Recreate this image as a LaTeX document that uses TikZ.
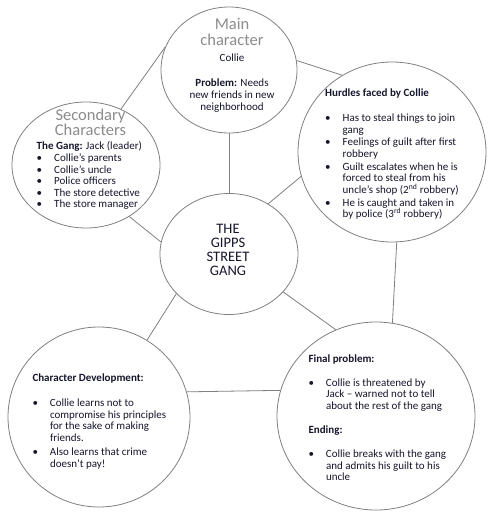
\documentclass[tikz,border=0pt]{standalone}
\usepackage{fontspec}
\setmainfont{Carlito}
\usetikzlibrary{shapes.geometric}

\definecolor{ringgrey}{RGB}{128,128,128}
\definecolor{headgrey}{RGB}{140,140,140}
\definecolor{inkblue}{RGB}{22,22,44}

\newcommand{\bul}{\makebox[17.5pt][l]{\textbullet}}
\newcommand{\ind}{\hspace*{17.5pt}}

\begin{document}
\begin{tikzpicture}[x=1pt, y=-1pt,
  bubble/.style={draw=ringgrey, line width=0.8pt, ellipse, inner sep=0pt},
  link/.style={draw=ringgrey, line width=0.8pt},
  headtext/.style={text=headgrey, font=\fontsize{16.5}{15.5}\selectfont, align=center, inner sep=0pt},
  bodytext/.style={text=inkblue, font=\fontsize{11}{11.6}\selectfont, align=left, inner sep=0pt}]
\useasboundingbox[fill=white] (0,0) rectangle (495,517);

% bubbles
\node[bubble, minimum width=136pt, minimum height=126pt] (main) at (229,70) {};
\node[bubble, minimum width=148pt, minimum height=126pt] (secondary) at (86,165) {};
\node[bubble, minimum width=188pt, minimum height=180pt] (hurdles) at (392,152) {};
\node[bubble, minimum width=138pt, minimum height=121pt] (gang) at (229,254) {};
\node[bubble, minimum width=182pt, minimum height=180pt] (chardev) at (99,417) {};
\node[bubble, minimum width=198pt, minimum height=188pt] (final) at (376,416) {};

% connectors
\draw[link] (secondary.58) -- (main.160);
\draw[link] (main.8) -- (hurdles.123);
\draw[link] (main.south) -- (gang.north);
\draw[link] (gang.52) -- (hurdles.195);
\draw[link] (secondary.-50) -- (gang.170);
\draw[link] (hurdles.-87) -- (final.80);
\draw[link] (gang.-35) -- (final.115);
\draw[link] (gang.-143) -- (chardev.58);
\draw[link] (chardev.16) -- (final.165);

% main character
\node[headtext, anchor=north] (mainhead) at (232,18) {Main\\character};
\node[bodytext, align=center, anchor=north] (maintext) at (232,54)
  {Collie\\[13.5pt]\textbf{Problem:} Needs\\new friends in new\\neighborhood};

% secondary characters
\node[headtext, anchor=north] (sechead) at (90.5,108.5) {Secondary\\Characters};
\node[bodytext, anchor=north west] (sectext) at (36.5,141.7)
  {\textbf{The Gang:} Jack (leader)\\
   \bul Collie's parents\\
   \bul Collie's uncle\\
   \bul Police officers\\
   \bul The store detective\\
   \bul The store manager};

% hurdles
\node[bodytext, anchor=north west] (hurdtext) at (325,89)
  {\textbf{Hurdles faced by Collie}\\[13.4pt]
   \bul Has to steal things to join\\
   \ind gang\\[0.4pt]
   \bul Feelings of guilt after first\\
   \ind robbery\\[1.4pt]
   \bul Guilt escalates when he is\\
   \ind forced to steal from his\\
   \ind uncle's shop (2\textsuperscript{nd} robbery)\\[1.4pt]
   \bul He is caught and taken in\\
   \ind by police (3\textsuperscript{rd} robbery)};

% title
\node[bodytext, align=center, anchor=north, font=\fontsize{14.5}{14}\selectfont] (gangtext) at (228,224)
  {THE\\GIPPS\\STREET\\GANG};

% character development
\node[bodytext, anchor=north west] (devtext) at (32.3,373.7)
  {\textbf{Character Development:}\\[13.4pt]
   \bul Collie learns not to\\
   \ind compromise his principles\\
   \ind for the sake of making\\
   \ind friends.\\[2.4pt]
   \bul Also learns that crime\\
   \ind doesn't pay!};

% final problem and ending
\node[bodytext, anchor=north west] (finaltext) at (308.3,354.3)
  {\textbf{Final problem:}\\[12.4pt]
   \bul Collie is threatened by\\
   \ind Jack -- warned not to tell\\
   \ind about the rest of the gang\\[12.4pt]
   \textbf{Ending:}\\[12.4pt]
   \bul Collie breaks with the gang\\
   \ind and admits his guilt to his\\
   \ind uncle};
\end{tikzpicture}
\end{document}
